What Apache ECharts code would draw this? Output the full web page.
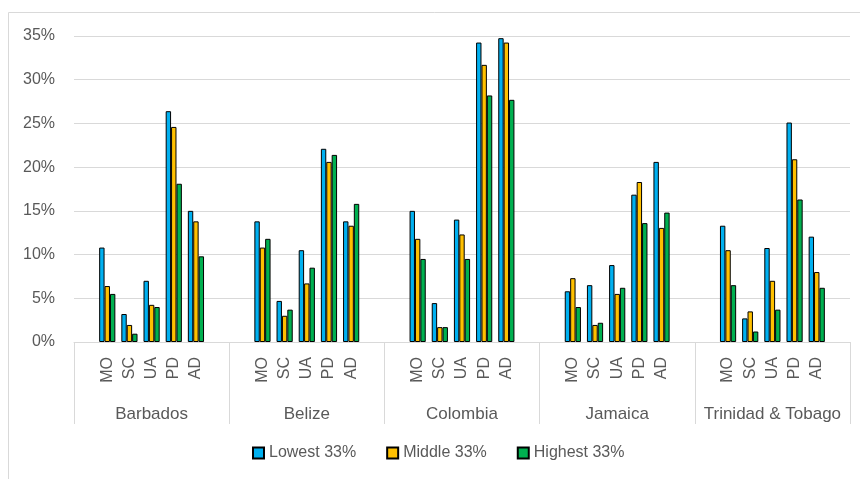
<!DOCTYPE html>
<html>
<head>
<meta charset="utf-8">
<script src="https://cdn.jsdelivr.net/npm/echarts@6/dist/echarts.min.js"></script>
<style>html,body{margin:0;padding:0;background:#fff}#c{width:860px;height:479px}</style>
</head>
<body>
<div id="c"></div>
<script>
var countries = ['Barbados', 'Belize', 'Colombia', 'Jamaica', 'Trinidad & Tobago'];
var measures = ['MO', 'SC', 'UA', 'PD', 'AD'];
var seriesNames = ['Lowest 33%', 'Middle 33%', 'Highest 33%'];
var yTicks = [0, 5, 10, 15, 20, 25, 30, 35];

// values in %, per country in order MO, SC, UA, PD, AD
var lowest = [
  10.8, 3.2, 7.0, 26.4, 15.0,
  13.8, 4.7, 10.5, 22.1, 13.8,
  15.0, 4.45, 14.0, 34.25, 34.75,
  5.8, 6.5, 8.8, 16.85, 20.6,
  13.3, 2.7, 10.75, 25.1, 12.05
];
var middle = [
  6.4, 1.95, 4.25, 24.6, 13.8,
  10.8, 3.0, 6.7, 20.6, 13.3,
  11.8, 1.7, 12.3, 31.7, 34.25,
  7.3, 1.95, 5.5, 18.3, 13.05,
  10.5, 3.5, 7.0, 20.9, 8.0
];
var highest = [
  5.5, 0.95, 4.0, 18.1, 9.8,
  11.8, 3.7, 8.5, 21.4, 15.8,
  9.5, 1.7, 9.5, 28.2, 27.7,
  4.0, 2.2, 6.2, 13.6, 14.8,
  6.5, 1.2, 3.7, 16.3, 6.2
];
var colors = ['#00B0F0', '#FFC000', '#00B050'];

// build slots: a blank slot before and after each country's five measures
function slots(vals) {
  var out = [];
  for (var c = 0; c < countries.length; c++) {
    out.push(null);
    for (var m = 0; m < measures.length; m++) out.push(vals ? vals[c * measures.length + m] : measures[m]);
    out.push(null);
  }
  return out;
}
var catLabels = slots(null).map(function (v) { return v === null ? '' : v; });
var allVals = [lowest, middle, highest];

var FONT = '"Liberation Sans", "DejaVu Sans", sans-serif';
var TXT = '#595959';
var LINE = '#d9d9d9';

var chart = echarts.init(document.getElementById('c'), null, { renderer: 'canvas' });
chart.setOption({
  animation: false,
  textStyle: { fontFamily: FONT },
  graphic: [{
    type: 'rect', shape: { x: 8.5, y: 12.5, width: 900, height: 500 },
    style: { fill: 'none', stroke: LINE, lineWidth: 1 }, silent: true, z: -10
  }],
  grid: { left: 74, right: 10, top: 36, bottom: 137 },
  legend: {
    left: 252, top: 445, padding: 0,
    itemWidth: 11, itemHeight: 11, itemGap: 30,
    icon: 'rect',
    textStyle: { color: TXT, fontSize: 16, fontFamily: FONT },
    data: seriesNames
  },
  xAxis: [{
    type: 'category',
    data: catLabels,
    position: 'bottom',
    axisLine: { show: true, lineStyle: { color: LINE, width: 1 } },
    axisTick: { show: false },
    axisLabel: { interval: 0, rotate: 90, margin: 15, color: TXT, fontSize: 16, fontFamily: FONT }
  }, {
    type: 'category',
    data: countries,
    position: 'bottom',
    axisLine: { show: false },
    axisTick: { show: true, length: 82, interval: 0, lineStyle: { color: LINE, width: 1 } },
    axisLabel: { interval: 0, margin: 64, color: TXT, fontSize: 17, fontFamily: FONT }
  }],
  yAxis: {
    type: 'value', min: yTicks[0], max: yTicks[yTicks.length - 1], interval: 5,
    axisLine: { show: false }, axisTick: { show: false },
    splitLine: { lineStyle: { color: LINE, width: 1 } },
    axisLabel: { formatter: '{value}%', color: TXT, fontSize: 16, margin: 19, fontFamily: FONT }
  },
  series: seriesNames.map(function (n, i) {
    return {
      name: n, type: 'bar', xAxisIndex: 0,
      data: slots(allVals[i]),
      barGap: '0%', barCategoryGap: '27%',
      itemStyle: { color: colors[i], borderColor: '#000', borderWidth: 1 }
    };
  })
});
</script>
</body>
</html>
